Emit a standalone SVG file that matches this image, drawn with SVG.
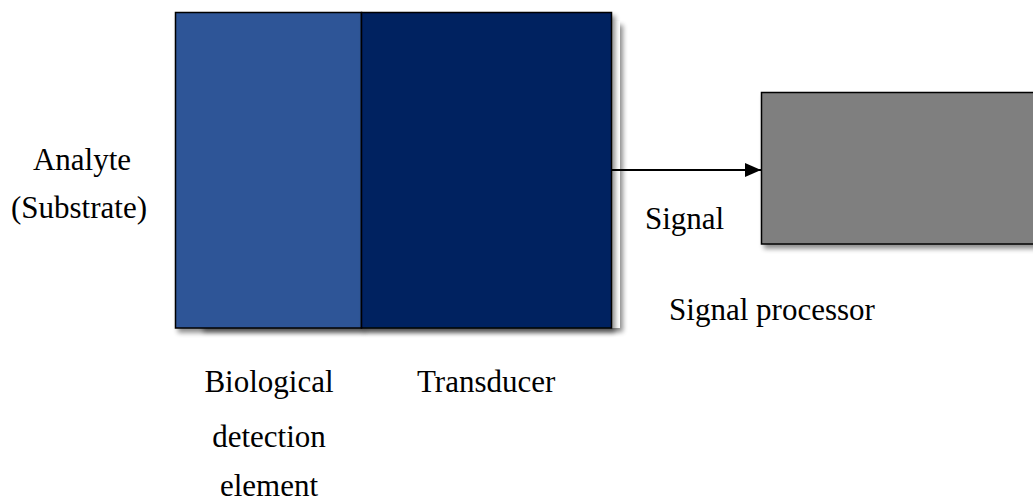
<svg xmlns="http://www.w3.org/2000/svg" width="1033" height="501" viewBox="0 0 1033 501">
  <defs>
    <filter id="shadow" x="-10%" y="-10%" width="130%" height="130%">
      <feGaussianBlur in="SourceAlpha" stdDeviation="2.5"/>
      <feOffset dx="3" dy="4" result="b"/>
      <feComponentTransfer><feFuncA type="linear" slope="0.45"/></feComponentTransfer>
      <feMerge><feMergeNode/><feMergeNode in="SourceGraphic"/></feMerge>
    </filter>
    <marker id="arrow" markerWidth="16" markerHeight="14" refX="16" refY="7" orient="auto" markerUnits="userSpaceOnUse">
      <path d="M0,0 L16,7 L0,14 Z" fill="#000"/>
    </marker>
  </defs>
  <style>
    .lbl { font-family: "Liberation Serif", "Times New Roman", serif; font-size: 31px; fill: #000; }
    .box { stroke: #000; stroke-width: 1.5; }
  </style>
  <rect width="1033" height="501" fill="#fff"/>

  <!-- backing panel behind the sensor -->
  <g id="panel">
    <rect x="200" y="21" width="420" height="307" fill="#fff" filter="url(#shadow)"/>
  </g>

  <g id="bio-element">
    <rect class="box" x="175.5" y="12.5" width="186" height="315.5" fill="#2F5597" filter="url(#shadow)"/>
  </g>
  <g id="transducer">
    <rect class="box" x="361.5" y="12.5" width="250" height="315.5" fill="#002060" filter="url(#shadow)"/>
  </g>
  <g id="processor">
    <rect class="box" x="761.5" y="92.5" width="290" height="151.5" fill="#7F7F7F" filter="url(#shadow)"/>
  </g>

  <g id="connectors">
    <line x1="612" y1="170" x2="761" y2="170" stroke="#000" stroke-width="2" marker-end="url(#arrow)"/>
  </g>

  <g id="labels">
    <text class="lbl" x="82" y="170" text-anchor="middle">Analyte</text>
    <text class="lbl" x="79" y="218" text-anchor="middle">(Substrate)</text>
    <text class="lbl" x="645" y="229">Signal</text>
    <text class="lbl" x="772" y="320" text-anchor="middle">Signal processor</text>
    <text class="lbl" x="269" y="392" text-anchor="middle">Biological</text>
    <text class="lbl" x="269" y="447" text-anchor="middle">detection</text>
    <text class="lbl" x="269" y="496" text-anchor="middle">element</text>
    <text class="lbl" x="417" y="392">Transducer</text>
  </g>
</svg>
